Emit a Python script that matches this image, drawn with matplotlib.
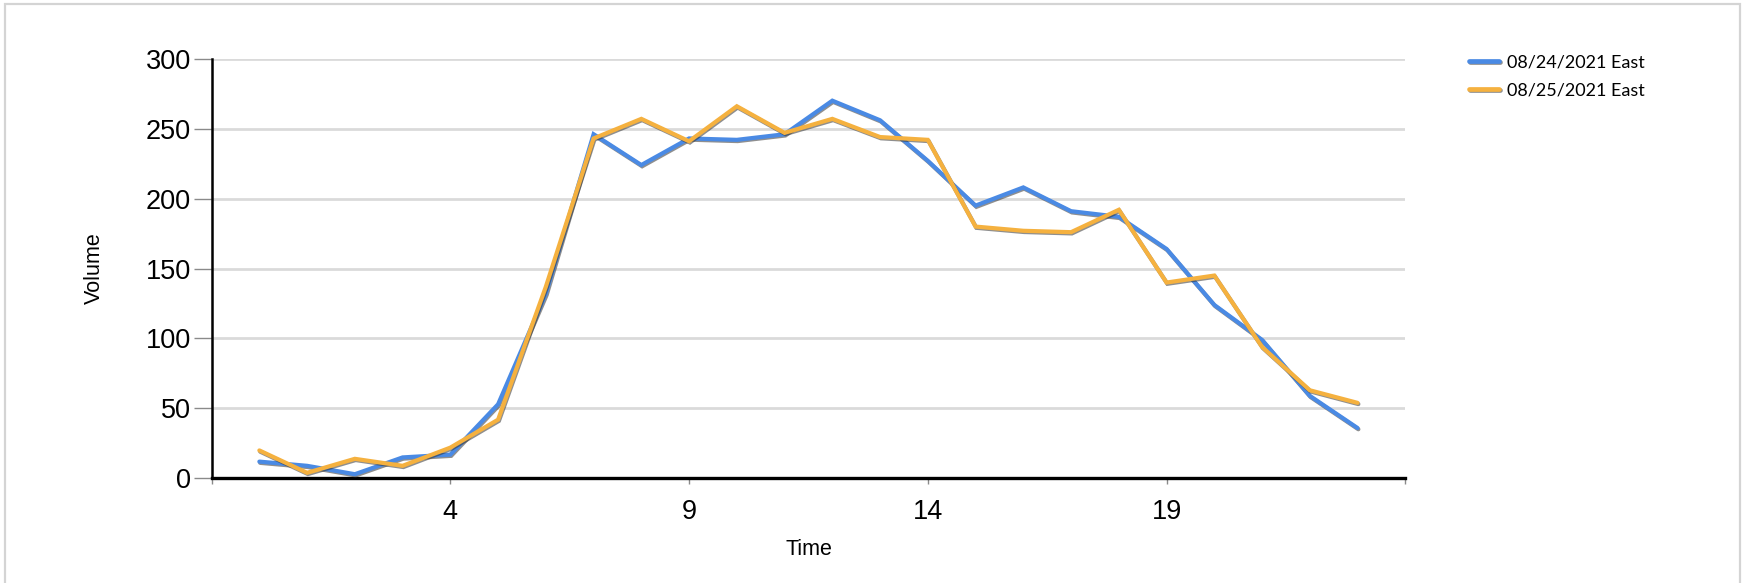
import matplotlib
matplotlib.use("Agg")
import matplotlib.pyplot as plt
import matplotlib.patheffects as pe
from matplotlib.patches import Rectangle

# Hourly traffic volume, two consecutive days
hours = list(range(24))
east_0824 = [12, 9, 3, 15, 17, 53, 132, 246, 224, 243, 242, 246,
             270, 256, 227, 195, 208, 191, 187, 164, 124, 99, 59, 36]
east_0825 = [20, 4, 14, 9, 22, 42, 137, 243, 257, 241, 266, 247,
             257, 244, 242, 180, 177, 176, 192, 140, 145, 94, 63, 54]
series_labels = ["08/24/2021 East", "08/25/2021 East"]
series_colors = ["#4a8ae4", "#f5b13f"]

x_ticks = [-1, 4, 9, 14, 19, 24]
x_tick_labels = ["", "4", "9", "14", "19", ""]
y_ticks = [0, 50, 100, 150, 200, 250, 300]

W, H = 1744, 583
fig = plt.figure(figsize=(W / 100, H / 100), dpi=100)

# light frame around the whole chart
fig.patches.append(Rectangle((5 / W, -0.05), (W - 9) / W, 1 - 4 / H + 0.05,
                             transform=fig.transFigure, fill=False,
                             edgecolor="#d4d4d4", linewidth=1.6))

ax = fig.add_axes([211.6 / W, 1 - 478.4 / H, (1405.3 - 211.6) / W, (478.4 - 58.7) / H])

shadow = [pe.SimpleLineShadow(offset=(0.6, -0.9), shadow_color="#333333", alpha=0.55),
          pe.Normal()]
for vals, lab, col in zip([east_0824, east_0825], series_labels, series_colors):
    ax.plot(hours, vals, color=col, linewidth=3.0, label=lab,
            solid_joinstyle="miter", solid_capstyle="round",
            path_effects=shadow, zorder=3)

ax.set_xlim(-1, 24)
ax.set_ylim(0, 300)
ax.set_xticks(x_ticks)
ax.set_xticklabels(x_tick_labels)
ax.set_yticks(y_ticks)
ax.set_yticklabels([str(v) for v in y_ticks])

ax.grid(axis="y", color="#dadada", linewidth=2.0, zorder=0)
ax.set_axisbelow(True)

for side in ("top", "right"):
    ax.spines[side].set_visible(False)
ax.spines["left"].set_linewidth(1.8)
ax.spines["bottom"].set_linewidth(2.4)
ax.spines["left"].set_color("black")
ax.spines["bottom"].set_color("black")

ax.tick_params(axis="y", length=13, width=1.0, color="#8a8a8a",
               labelsize=19.5, pad=2)
ax.tick_params(axis="x", length=4, width=1.0, color="#8a8a8a",
               labelsize=19.5, pad=11)
for t in ax.get_xticklabels() + ax.get_yticklabels():
    t.set_fontfamily("Liberation Sans")

ax.set_xlabel("Time", fontsize=15.5, fontfamily="Liberation Sans", labelpad=10)
ax.set_ylabel("Volume", fontsize=15.5, fontfamily="Liberation Sans", labelpad=29)

leg = fig.legend(loc="upper left", bbox_to_anchor=(1453 / W, 1 - 38 / H),
                 frameon=False, handlelength=1.65, handletextpad=0.45,
                 labelspacing=0.68, prop={"family": "Lato", "size": 13})
for line in leg.get_lines():
    line.set_linewidth(3.4)

fig.savefig("out.png", dpi=100)
